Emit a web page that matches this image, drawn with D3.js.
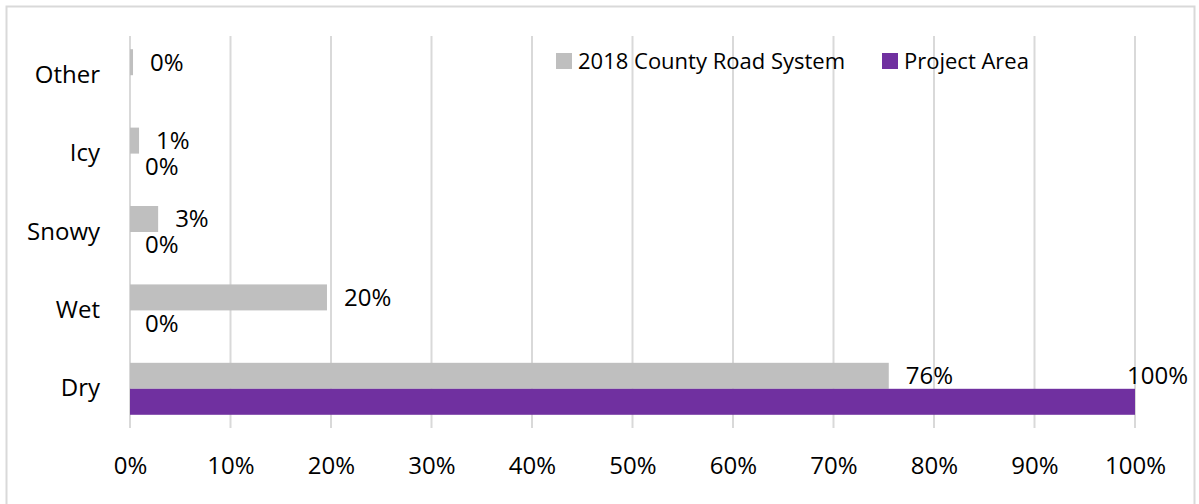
<!DOCTYPE html>
<html>
<head>
<meta charset="utf-8">
<script src="https://cdn.jsdelivr.net/npm/d3@7"></script>
<style>
  body { margin: 0; background: #fff; }
  text { font-family: "Open Sans", sans-serif; fill: #000; }
</style>
</head>
<body>
<script>
// chart data
var categories = ["Other", "Icy", "Snowy", "Wet", "Dry"];
var seriesNames = ["2018 County Road System", "Project Area"];
var countyValues = [0.3, 0.9, 2.8, 19.6, 75.5];
var countyLabels = ["0%", "1%", "3%", "20%", "76%"];
// no project value for "Other", so no bar or label there
var projectValues = [null, 0, 0, 0, 100];
var projectLabels = ["", "0%", "0%", "0%", "100%"];
var tickValues = [0, 10, 20, 30, 40, 50, 60, 70, 80, 90, 100];
var colors = ["#bfbfbf", "#7030a0"];

var w = 1199;
var h = 504;
var fontSize = 24;

var svg = d3.select("body").append("svg").attr("width", w).attr("height", h);

// outer chart border
svg.append("rect")
  .attr("x", 6.5).attr("y", 6.5)
  .attr("width", 1188).attr("height", 510)
  .attr("fill", "none")
  .attr("stroke", "#d9d9d9")
  .attr("stroke-width", 2);

var x = d3.scaleLinear().domain([0, 100]).range([130, 1135]);
var y = d3.scaleBand().domain(categories).range([36, 428]).paddingInner(0.337).paddingOuter(0.337 / 2);
var y1 = d3.scaleBand().domain(seriesNames).range([0, y.bandwidth()]);

// gridlines
svg.append("g").selectAll("line")
  .data(tickValues)
  .enter().append("line")
  .attr("x1", function(d) { return x(d); })
  .attr("x2", function(d) { return x(d); })
  .attr("y1", 36)
  .attr("y2", 428)
  .attr("stroke", "#d9d9d9")
  .attr("stroke-width", 2);

// x axis labels
var xAxis = svg.append("g")
  .attr("transform", "translate(0,428)")
  .call(d3.axisBottom(x).tickValues(tickValues).tickSize(0).tickPadding(29)
    .tickFormat(function(d) { return d + "%"; }));
xAxis.select(".domain").remove();
xAxis.selectAll("text").style("font-size", fontSize + "px").attr("font-family", null);

// category labels
var yAxis = svg.append("g")
  .attr("transform", "translate(100,0)")
  .call(d3.axisLeft(y).tickSize(0).tickPadding(0));
yAxis.select(".domain").remove();
yAxis.selectAll("text").style("font-size", fontSize + "px").attr("font-family", null);

var rows = categories.map(function(c, i) {
  return { cat: c, vals: [countyValues[i], projectValues[i]], labels: [countyLabels[i], projectLabels[i]] };
});

function points(d) {
  return d.vals.map(function(v, j) { return { v: v, s: seriesNames[j], j: j, t: d.labels[j] }; })
    .filter(function(p) { return p.v != null; });
}

var groups = svg.selectAll(".cat")
  .data(rows)
  .enter().append("g")
  .attr("class", "cat")
  .attr("transform", function(d) { return "translate(0," + y(d.cat) + ")"; });

groups.selectAll("rect")
  .data(points)
  .enter().append("rect")
  .attr("x", x(0))
  .attr("y", function(d) { return y1(d.s); })
  .attr("width", function(d) { return x(d.v) - x(0); })
  .attr("height", y1.bandwidth())
  .attr("fill", function(d) { return colors[d.j]; });

// data labels (Excel pushes the 100% label back inside the chart and up)
groups.selectAll(".lbl")
  .data(points)
  .enter().append("text")
  .attr("class", "lbl")
  .style("font-size", fontSize + "px")
  .attr("dy", "0.35em")
  .attr("x", function(d) {
    if (d.v >= 100) return 1188;
    return d.j == 1 ? x(d.v) + 15 : x(d.v) + 17;
  })
  .attr("y", function(d) {
    if (d.v >= 100) return y1(seriesNames[0]) + y1.bandwidth() / 2;
    return y1(d.s) + y1.bandwidth() / 2;
  })
  .attr("text-anchor", function(d) { return d.v >= 100 ? "end" : "start"; })
  .text(function(d) { return d.t; });

// legend
var legend = svg.append("g").attr("class", "legend");
var legendX = [556, 882];
seriesNames.forEach(function(name, i) {
  legend.append("rect")
    .attr("x", legendX[i]).attr("y", 53)
    .attr("width", 16).attr("height", 16)
    .attr("fill", colors[i]);
  legend.append("text")
    .attr("x", legendX[i] + 22).attr("y", 61)
    .attr("dy", "0.35em")
    .style("font-size", "22px")
    .text(name);
});
</script>
</body>
</html>
